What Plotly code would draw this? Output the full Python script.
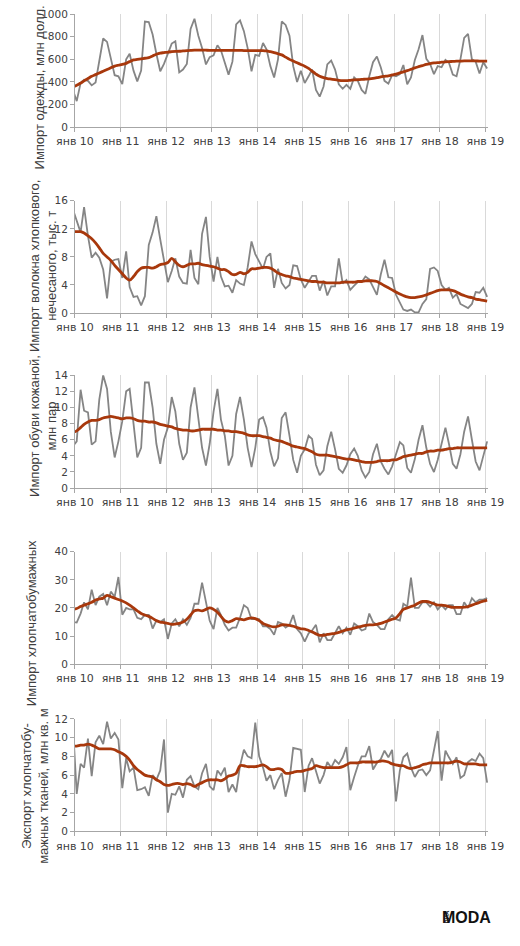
import plotly.graph_objects as go
import pandas as pd

# monthly observations: Dec 2009 ... Jan 2019 (110 months)
months = pd.date_range("2009-12-01", periods=110, freq="MS") + pd.Timedelta(days=14)
years = [2010 + i for i in range(10)]
tick_dates = [f"{y}-01-01" for y in years]
tick_text = [f"янв {str(y)[2:]}" for y in years]

clothes = [330, 230, 390, 420, 410, 370, 395, 600, 785, 755, 620, 460,
           450, 380, 600, 650, 500, 405, 500, 935, 930, 820, 650, 495,
           560, 650, 740, 760, 485, 510, 560, 870, 960, 810, 700, 555,
           620, 635, 725, 680, 570, 465, 580, 910, 945, 850, 700, 495,
           640, 630, 745, 690, 540, 440, 600, 935, 905, 810, 540, 400,
           500, 390, 450, 510, 330, 270, 360, 555, 590, 510, 380, 340,
           375, 340, 440, 410, 330, 295, 450, 575, 625, 530, 410, 385,
           460, 450, 470, 550, 380, 440, 595, 690, 815, 605, 560, 470,
           540, 530, 595, 570, 465, 450, 600, 790, 825, 600, 580, 475,
           575, 520]
clothes_trend = [355,
                 370, 390, 410, 430, 450, 465, 480, 495, 510, 525, 540, 548,
                 555, 565, 580, 595, 600, 605, 610, 615, 630, 645, 655, 660,
                 665, 668, 670, 672, 675, 678, 680, 682, 682, 682, 681, 680,
                 680, 680, 680, 680, 680, 680, 680, 680, 678, 678, 678, 678,
                 678, 678, 675, 668, 660, 650, 640, 620, 600, 585, 570, 555,
                 540, 520, 495, 470, 450, 438, 430, 425, 420, 415, 412, 412,
                 415, 418, 420, 422, 425, 428, 432, 438, 445, 450, 455, 462,
                 470, 480, 490, 500, 512, 525, 535, 545, 555, 562, 568, 572,
                 575, 578, 580, 582, 584, 585, 586, 586, 586, 586, 585, 585,
                 585]

cotton = [14.8, 13.0, 11.5, 15.1, 11.0, 7.9, 8.6, 7.9, 6.2, 2.1, 7.3, 7.6,
          7.7, 5.0, 8.8, 3.7, 2.3, 2.4, 1.1, 2.4, 9.7, 11.5, 13.8, 10.5,
          7.5, 4.4, 6.0, 7.8, 5.2, 4.3, 4.2, 9.0, 5.0, 4.1, 11.3, 13.7,
          8.0, 4.5, 8.0, 5.2, 3.8, 3.9, 2.9, 4.7, 4.2, 4.0, 6.5, 10.2,
          8.4, 7.3, 6.3, 8.0, 8.5, 3.6, 6.3, 4.3, 3.5, 4.0, 6.8, 6.7,
          4.8, 3.6, 4.5, 5.3, 5.3, 3.2, 4.6, 2.5, 3.8, 3.8, 7.8, 4.2,
          4.7, 3.3, 3.9, 4.4, 4.4, 5.2, 4.8, 3.6, 2.6, 5.5, 7.6, 5.1,
          5.0, 2.6, 1.5, 0.5, 0.3, 0.5, 0.1, 0.1, 1.3, 2.0, 6.3, 6.5,
          6.0, 4.0, 3.3, 3.6, 2.2, 2.7, 1.3, 1.0, 0.7, 1.3, 3.0, 2.9,
          3.6, 2.3]
cotton_trend = [11.6,
                11.6, 11.6, 11.4, 11.0, 10.6, 10.0, 9.3, 8.5, 8.0, 7.5, 6.8, 6.2,
                5.6, 5.0, 4.7, 5.2, 5.9, 6.4, 6.5, 6.5, 6.4, 6.6, 6.9, 7.0,
                7.2, 7.8, 7.3, 6.8, 6.6, 6.8, 7.0, 7.0, 7.1, 6.9, 6.8, 6.7,
                6.6, 6.4, 6.2, 6.2, 5.9, 5.5, 5.5, 5.8, 5.6, 5.8, 6.3, 6.3,
                6.4, 6.5, 6.5, 6.4, 6.1, 5.7, 5.5, 5.3, 5.2, 5.0, 4.9, 4.8,
                4.7, 4.6, 4.5, 4.5, 4.4, 4.4, 4.3, 4.3, 4.3, 4.3, 4.4, 4.4,
                4.4, 4.4, 4.5, 4.5, 4.6, 4.6, 4.6, 4.5, 4.2, 3.9, 3.6, 3.3,
                3.0, 2.7, 2.5, 2.3, 2.2, 2.2, 2.3, 2.4, 2.6, 2.8, 3.0, 3.2,
                3.3, 3.3, 3.3, 3.2, 3.0, 2.7, 2.5, 2.3, 2.2, 2.0, 1.9, 1.8,
                1.7]

shoes = [5.2, 5.8, 12.2, 9.6, 9.4, 5.4, 5.8, 11.0, 14.0, 12.3, 7.0, 3.8,
         5.8, 8.3, 12.0, 12.3, 8.0, 3.8, 5.0, 13.1, 13.1, 10.0, 5.5, 3.0,
         6.0, 7.5, 11.3, 9.5, 5.5, 3.5, 4.4, 10.0, 12.5, 8.5, 5.0, 2.8,
         5.5, 9.5, 12.3, 8.5, 6.5, 2.8, 4.0, 9.2, 11.3, 8.5, 5.0, 2.6,
         5.0, 8.5, 8.8, 7.5, 4.5, 2.7, 3.7, 8.7, 9.4, 6.5, 3.5, 1.9,
         4.0, 4.8, 6.5, 6.1, 2.9, 1.6, 2.2, 5.2, 7.0, 4.8, 2.4, 1.9,
         2.8, 4.2, 4.9, 4.0, 2.2, 1.3, 2.0, 4.2, 5.5, 3.3, 2.4, 1.7,
         2.7, 4.2, 5.7, 5.3, 2.5, 1.9, 3.6, 6.0, 7.8, 5.0, 3.0, 2.0,
         3.5, 5.5, 7.5, 5.5, 3.0, 2.4, 4.2, 7.0, 8.9, 6.0, 3.3, 2.2,
         4.0, 5.8]
shoes_trend = [6.9,
               7.1, 7.5, 7.9, 8.2, 8.4, 8.4, 8.5, 8.7, 8.8, 8.9, 8.8, 8.7,
               8.6, 8.7, 8.7, 8.6, 8.4, 8.3, 8.3, 8.2, 8.2, 8.1, 7.9, 7.8,
               7.7, 7.6, 7.4, 7.3, 7.2, 7.2, 7.1, 7.1, 7.2, 7.3, 7.3, 7.3,
               7.3, 7.2, 7.2, 7.1, 7.1, 7.0, 7.0, 6.9, 6.8, 6.6, 6.5, 6.5,
               6.5, 6.4, 6.3, 6.2, 6.0, 5.9, 5.8, 5.6, 5.4, 5.2, 5.1, 5.0,
               4.9, 4.7, 4.5, 4.2, 4.1, 4.1, 4.1, 4.0, 3.9, 3.8, 3.7, 3.6,
               3.6, 3.5, 3.4, 3.3, 3.2, 3.2, 3.2, 3.3, 3.4, 3.4, 3.4, 3.5,
               3.5, 3.7, 3.9, 4.0, 4.1, 4.2, 4.3, 4.3, 4.5, 4.6, 4.6, 4.7,
               4.7, 4.8, 4.9, 4.9, 5.0, 5.0, 5.0, 5.0, 5.0, 5.0, 5.0, 5.0,
               5.0]

fabric_imp = [15,
              14.8, 18, 22, 19.5, 26.5, 21, 24, 25, 21, 25.8, 24, 31,
              17.6, 20, 19.5, 19.5, 16.5, 16, 17.5, 17.5, 12.7, 15.5, 15, 16,
              9.0, 14.5, 16, 13.5, 16, 14, 16.5, 21.5, 21.5, 29, 21.5, 15.5,
              12.5, 20, 17.5, 14, 12, 13, 13, 16.5, 21, 20, 16, 16,
              16, 13.5, 13.5, 12.5, 10.5, 15, 14.5, 13, 14, 17.5, 12.5, 11,
              8.0, 11, 12, 14, 7.8, 11, 8.6, 8.6, 11, 13.5, 11, 13,
              10.5, 14.5, 13.5, 12, 12.5, 18, 15, 14, 12.5, 12.5, 16, 17.5,
              16, 15.5, 21.5, 20.5, 30.8, 20, 20, 22, 22, 20.5, 22, 19.5,
              21, 19.5, 21, 21, 17.8, 17.8, 22, 20, 23.5, 22, 23, 23,
              23.5]
fabric_imp_trend = [19.5,
                    19.8, 20.5, 21.0, 21.5, 22.0, 22.8, 23.2, 23.5, 24.5, 24.0, 23.5, 23.0,
                    22.5, 21.8, 21.0, 20.0, 19.0, 18.0, 17.5, 17.0, 16.3, 15.5, 15.0, 14.8,
                    14.5, 14.2, 14.3, 14.5, 15.0, 16.0, 17.5, 19.0, 19.2, 19.0, 19.5, 20.0,
                    19.5, 18.5, 17.0, 15.5, 15.0, 15.5, 16.2, 16.0, 15.8, 16.2, 16.5, 16.2,
                    15.5, 14.5, 14.0, 13.5, 13.3, 13.5, 14.0, 14.0, 13.8, 13.5, 13.0, 12.6,
                    12.5, 12.0, 11.5, 10.8, 10.3, 10.3, 10.6, 10.8, 11.0, 11.3, 11.8, 12.2,
                    12.5, 12.8, 13.2, 13.5, 13.8, 14.0, 14.0, 14.2, 14.5, 15.0, 15.5, 16.0,
                    16.5, 18.0, 19.5, 20.0, 20.5, 21.0, 21.8, 22.3, 22.3, 22.0, 21.5, 21.0,
                    21.0, 20.8, 20.5, 20.2, 20.2, 20.2, 20.3, 20.5, 21.0, 21.5, 22.0, 22.4,
                    22.8]

fabric_exp = [11.5,
              4.0, 7.2, 6.8, 9.9, 5.9, 9.5, 10.2, 9.3, 11.7, 9.9, 10.5, 9.8,
              4.6, 7.8, 6.4, 6.8, 4.4, 4.5, 4.7, 3.8, 6.0, 5.5, 6.5, 9.8,
              2.0, 4.0, 3.9, 4.8, 3.6, 5.5, 5.9, 4.8, 4.5, 6.2, 7.2, 4.8,
              4.4, 6.5, 6.0, 6.8, 4.2, 5.0, 4.2, 7.0, 8.7, 8.0, 7.8, 11.6,
              8.0, 6.8, 5.4, 6.0, 4.5, 5.5, 6.2, 3.7, 5.5, 8.9, 8.8, 8.7,
              4.2, 7.0, 7.8, 6.5, 5.1, 6.0, 7.4, 6.8, 7.6, 7.2, 7.9, 9.0,
              4.4, 5.8, 7.0, 8.0, 8.0, 9.1, 6.6, 7.3, 7.7, 8.6, 7.9, 8.7,
              3.2, 6.5, 7.9, 8.3, 6.8, 5.8, 6.5, 6.6, 6.0, 6.5, 8.8, 10.7,
              5.4, 8.6, 7.9, 7.2, 7.9, 5.7, 6.0, 7.4, 7.7, 7.5, 8.3, 7.8,
              5.2]
fabric_exp_trend = [9.1,
                    9.1, 9.2, 9.2, 9.3, 9.2, 9.0, 8.8, 8.8, 8.8, 8.8, 8.7, 8.5,
                    8.3, 8.0, 7.6, 7.0, 6.6, 6.3, 6.0, 5.9, 5.8, 5.5, 5.3, 5.0,
                    4.9, 5.0, 5.1, 5.1, 5.0, 5.1, 5.0, 4.8, 5.0, 5.2, 5.4, 5.5,
                    5.5, 5.5, 5.4, 5.6, 5.9, 6.0, 6.2, 7.0, 7.0, 6.9, 6.9, 6.9,
                    7.0, 7.1, 6.9, 6.6, 6.6, 6.7, 6.6, 6.2, 6.2, 6.3, 6.4, 6.4,
                    6.5, 6.6, 6.7, 7.0, 6.9, 6.8, 6.8, 6.8, 6.8, 6.8, 6.9, 7.1,
                    7.3, 7.3, 7.3, 7.4, 7.4, 7.4, 7.4, 7.4, 7.5, 7.5, 7.4, 7.2,
                    7.1, 7.0, 7.0, 6.8, 6.7, 6.8, 6.9, 7.1, 7.2, 7.3, 7.3, 7.3,
                    7.3, 7.3, 7.3, 7.4, 7.5, 7.4, 7.2, 7.2, 7.2, 7.2, 7.1, 7.1,
                    7.1]

titles = ["Импорт одежды, млн долл.",
          "Импорт волокна хлопкового,<br>нечесаного, тыс. т",
          "Импорт обуви кожаной,<br>млн пар",
          "Импорт хлопчатобумажных",
          "Экспорт хлопчатобу-<br>мажных тканей, млн кв. м"]
y_max = [1000, 16, 14, 40, 12]
y_step = [200, 4, 2, 10, 2]

W, H = 520, 946
panel_px = [(8.3, 122.7), (197.3, 311), (374, 488.3), (552.7, 666.7), (722, 836)]
title_pos = [(22, 83), (25, 263), (25, 425), (13, 625), (17, 790)]

GREY = "#858585"
TREND = "#a8380c"
AXC = "#a6a6a6"
GRIDC = "#d9d9d9"
XTICKFONT = dict(family="DejaVu Sans", size=11, color="#404040")
YTICKFONT = dict(family="DejaVu Sans", size=10.5, color="#404040")

series = [(clothes, clothes_trend), (cotton, cotton_trend), (shoes, shoes_trend),
          (fabric_imp, fabric_imp_trend), (fabric_exp, fabric_exp_trend)]

fig = go.Figure()
layout = dict(width=W, height=H, margin=dict(l=0, r=0, t=0, b=0),
              paper_bgcolor="white", plot_bgcolor="white", showlegend=False,
              annotations=[])

for k, ((g, t), (top, bot)) in enumerate(zip(series, panel_px), start=1):
    xa = "x" if k == 1 else f"x{k}"
    ya = "y" if k == 1 else f"y{k}"
    fig.add_trace(go.Scatter(x=months, y=g, mode="lines", xaxis=xa, yaxis=ya,
                             line=dict(color=GREY, width=1.8), hoverinfo="skip"))
    fig.add_trace(go.Scatter(x=months, y=t, mode="lines", xaxis=xa, yaxis=ya,
                             line=dict(color=TREND, width=2.8, shape="spline"), hoverinfo="skip"))
    layout[f"xaxis{'' if k == 1 else k}"] = dict(
        domain=[60 / W, 503 / W], anchor=ya, type="date",
        range=["2010-01-01", "2019-01-23"],
        tickmode="array", tickvals=tick_dates, ticktext=tick_text,
        showgrid=True, gridcolor=GRIDC, gridwidth=1,
        showline=True, linecolor=AXC, linewidth=1,
        ticks="outside", ticklen=4, tickcolor=AXC,
        tickfont=XTICKFONT, zeroline=False, fixedrange=True)
    layout[f"yaxis{'' if k == 1 else k}"] = dict(
        domain=[1 - bot / H, 1 - top / H], anchor=xa,
        range=[0, y_max[k - 1]], dtick=y_step[k - 1], tick0=0,
        showgrid=False, zeroline=False,
        showline=True, linecolor=AXC, linewidth=1,
        ticks="outside", ticklen=4, tickcolor=AXC,
        tickfont=YTICKFONT, fixedrange=True)
    tx, ty = title_pos[k - 1]
    layout["annotations"].append(dict(
        text=titles[k - 1], x=tx / W, y=1 - ty / H, xref="paper", yref="paper",
        xanchor="center", yanchor="middle", textangle=-90, showarrow=False,
        align="center", font=dict(family="Liberation Sans", size=13, color="#404040")))

# logo
layout["annotations"].append(dict(
    text="<b>MODA</b>", x=508 / W, y=1 - 923 / H, xref="paper", yref="paper",
    xanchor="right", yanchor="middle", showarrow=False,
    font=dict(family="Liberation Sans", size=16, color="#111111")))
layout["annotations"].append(dict(
    text="<b>РИА</b>", x=459 / W, y=1 - 923 / H, xref="paper", yref="paper",
    xanchor="center", yanchor="middle", showarrow=False, textangle=-90,
    font=dict(family="Liberation Sans", size=6, color="#111111")))

fig.update_layout(**layout)
fig.write_html("out.html")
